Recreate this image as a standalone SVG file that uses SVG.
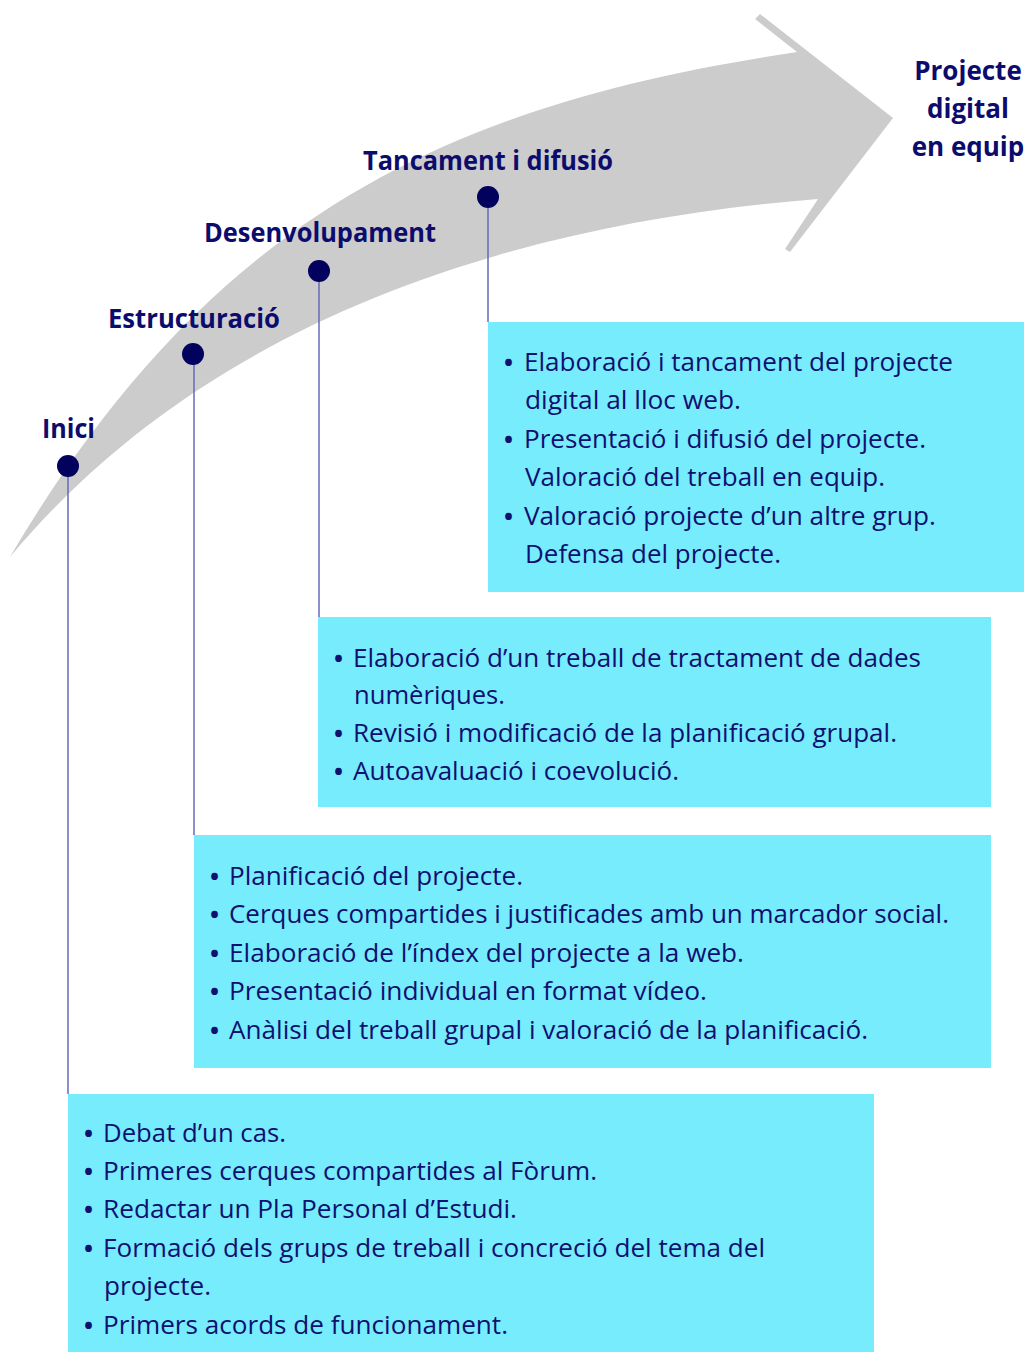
<svg xmlns="http://www.w3.org/2000/svg" width="1024" height="1352" viewBox="0 0 1024 1352">
  <style>
    .box { fill: #77ecfd; }
    .body { font-family: "Open Sans", "Noto Sans", "Liberation Sans", sans-serif; font-size: 26px; fill: #101070; }
    .bul { font-size: 24px; font-weight: bold; }
    .lbl { font-family: "Open Sans", "Noto Sans", "Liberation Sans", sans-serif; font-size: 26px; font-weight: bold; fill: #0c0c6c; }
    .dot { fill: #02025e; }
    .conn { stroke: #6a6ab4; stroke-width: 1.5; fill: none; }
  </style>
  <rect width="1024" height="1352" fill="#ffffff"/>

  <g id="arrow">
    <path d="M 10,557 C 210,217 447,104 797,52 L 755,19 L 760,14 L 893,118 L 790,252 L 785,249 L 818,199 C 518,223 210,317 10,557 Z" fill="#cccccc"/>
  </g>

  <g id="connectors">
    <line class="conn" x1="68" y1="466" x2="68" y2="1094"/>
    <line class="conn" x1="194" y1="354" x2="194" y2="835"/>
    <line class="conn" x1="319" y1="271" x2="319" y2="617"/>
    <line class="conn" x1="488" y1="197" x2="488" y2="322"/>
  </g>

  <g id="goal">
    <text class="lbl" text-anchor="middle"><tspan x="968" y="80">Projecte</tspan><tspan x="968" y="118">digital</tspan><tspan x="968" y="156">en equip</tspan></text>
  </g>

  <g id="stage-inici">
    <text class="lbl" x="42" y="438" textLength="53" lengthAdjust="spacingAndGlyphs">Inici</text>
    <circle class="dot" cx="68" cy="466" r="11"/>
  </g>
  <g id="stage-estructuracio">
    <text class="lbl" x="108" y="328" textLength="172" lengthAdjust="spacingAndGlyphs">Estructuració</text>
    <circle class="dot" cx="193" cy="354" r="11"/>
  </g>
  <g id="stage-desenvolupament">
    <text class="lbl" x="204" y="242" textLength="232" lengthAdjust="spacingAndGlyphs">Desenvolupament</text>
    <circle class="dot" cx="319" cy="271" r="11"/>
  </g>
  <g id="stage-tancament">
    <text class="lbl" x="363" y="170" textLength="250" lengthAdjust="spacingAndGlyphs">Tancament i difusió</text>
    <circle class="dot" cx="488" cy="197" r="11"/>
  </g>

  <g id="box-tancament">
    <rect class="box" x="488" y="322" width="536" height="270"/>
    <text class="body" y="371"><tspan class="bul" x="504">•</tspan><tspan x="524" textLength="429" lengthAdjust="spacingAndGlyphs">Elaboració i tancament del projecte</tspan></text>
    <text class="body" x="525" y="409" textLength="216" lengthAdjust="spacingAndGlyphs">digital al lloc web.</text>
    <text class="body" y="448"><tspan class="bul" x="504">•</tspan><tspan x="524" textLength="402" lengthAdjust="spacingAndGlyphs">Presentació i difusió del projecte.</tspan></text>
    <text class="body" x="525" y="486" textLength="360" lengthAdjust="spacingAndGlyphs">Valoració del treball en equip.</text>
    <text class="body" y="525"><tspan class="bul" x="504">•</tspan><tspan x="524" textLength="412" lengthAdjust="spacingAndGlyphs">Valoració projecte d’un altre grup.</tspan></text>
    <text class="body" x="525" y="563" textLength="256" lengthAdjust="spacingAndGlyphs">Defensa del projecte.</text>
  </g>

  <g id="box-desenvolupament">
    <rect class="box" x="318" y="617" width="673" height="190"/>
    <text class="body" y="667"><tspan class="bul" x="334">•</tspan><tspan x="353" textLength="568" lengthAdjust="spacingAndGlyphs">Elaboració d’un treball de tractament de dades</tspan></text>
    <text class="body" x="354" y="704" textLength="151" lengthAdjust="spacingAndGlyphs">numèriques.</text>
    <text class="body" y="742"><tspan class="bul" x="334">•</tspan><tspan x="353" textLength="544" lengthAdjust="spacingAndGlyphs">Revisió i modificació de la planificació grupal.</tspan></text>
    <text class="body" y="780"><tspan class="bul" x="334">•</tspan><tspan x="353" textLength="326" lengthAdjust="spacingAndGlyphs">Autoavaluació i coevolució.</tspan></text>
  </g>

  <g id="box-estructuracio">
    <rect class="box" x="194" y="835" width="797" height="233"/>
    <text class="body" y="885"><tspan class="bul" x="210">•</tspan><tspan x="229" textLength="294" lengthAdjust="spacingAndGlyphs">Planificació del projecte.</tspan></text>
    <text class="body" y="923"><tspan class="bul" x="210">•</tspan><tspan x="229" textLength="720" lengthAdjust="spacingAndGlyphs">Cerques compartides i justificades amb un marcador social.</tspan></text>
    <text class="body" y="962"><tspan class="bul" x="210">•</tspan><tspan x="229" textLength="515" lengthAdjust="spacingAndGlyphs">Elaboració de l’índex del projecte a la web.</tspan></text>
    <text class="body" y="1000"><tspan class="bul" x="210">•</tspan><tspan x="229" textLength="478" lengthAdjust="spacingAndGlyphs">Presentació individual en format vídeo.</tspan></text>
    <text class="body" y="1039"><tspan class="bul" x="210">•</tspan><tspan x="229" textLength="639" lengthAdjust="spacingAndGlyphs">Anàlisi del treball grupal i valoració de la planificació.</tspan></text>
  </g>

  <g id="box-inici">
    <rect class="box" x="68" y="1094" width="806" height="258"/>
    <text class="body" y="1142"><tspan class="bul" x="84">•</tspan><tspan x="103" textLength="183" lengthAdjust="spacingAndGlyphs">Debat d’un cas.</tspan></text>
    <text class="body" y="1180"><tspan class="bul" x="84">•</tspan><tspan x="103" textLength="494" lengthAdjust="spacingAndGlyphs">Primeres cerques compartides al Fòrum.</tspan></text>
    <text class="body" y="1218"><tspan class="bul" x="84">•</tspan><tspan x="103" textLength="414" lengthAdjust="spacingAndGlyphs">Redactar un Pla Personal d’Estudi.</tspan></text>
    <text class="body" y="1257"><tspan class="bul" x="84">•</tspan><tspan x="103" textLength="662" lengthAdjust="spacingAndGlyphs">Formació dels grups de treball i concreció del tema del</tspan></text>
    <text class="body" x="104" y="1295" textLength="107" lengthAdjust="spacingAndGlyphs">projecte.</text>
    <text class="body" y="1334"><tspan class="bul" x="84">•</tspan><tspan x="103" textLength="405" lengthAdjust="spacingAndGlyphs">Primers acords de funcionament.</tspan></text>
  </g>
</svg>
